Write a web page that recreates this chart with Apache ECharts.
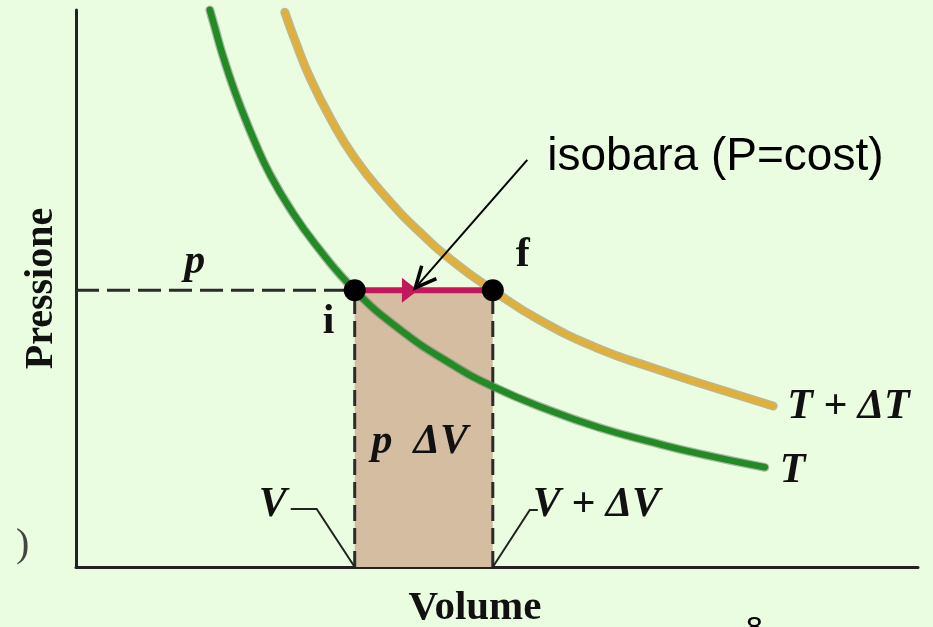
<!DOCTYPE html>
<html><head><meta charset="utf-8">
<script src="https://cdn.jsdelivr.net/npm/echarts/dist/echarts.min.js"></script>
<style>html,body{margin:0;padding:0;background:#ebfde1;}#c{width:933px;height:627px;}</style>
</head><body><div id="c"></div>
<script>
// ---- data (arbitrary units) ----
const volumeRange = [0, 10];
const pressureRange = [0, 10];
const isoV = [3.31, 4.95];          // V and V + ΔV
const isoP = 4.97;                  // p (constant pressure)
const greenV = [1.59, 1.65, 1.73, 1.83, 1.95, 2.13, 2.30, 2.54, 2.84, 3.31, 3.85, 4.44, 4.95, 5.63, 6.22, 6.82, 7.41, 8.18];
const greenP = [10.0, 9.68, 9.25, 8.78, 8.28, 7.61, 7.06, 6.44, 5.80, 4.97, 4.26, 3.66, 3.24, 2.81, 2.50, 2.25, 2.03, 1.79];
const orangeV = [2.48, 2.60, 2.78, 3.02, 3.31, 3.67, 4.09, 4.50, 4.95, 5.51, 6.22, 6.82, 7.41, 8.28];
const orangeP = [9.96, 9.46, 8.78, 8.06, 7.34, 6.66, 6.00, 5.46, 4.97, 4.43, 3.91, 3.59, 3.30, 2.89];
const isobaraStart = [5.36, 7.31];  // start of the annotation arrow
const isobaraTip = [4.03, 5.01];    // arrow tip on the isobar
const xName = 'Volume';
const yName = 'Pressione';
const curveLabels = ['T', 'T + ΔT'];
const pointLabels = ['i', 'f'];
const isobaraText = 'isobara (P=cost)';

// ---- chart ----
const chart = echarts.init(document.getElementById('c'), null, {renderer: 'canvas'});
const zip = (a, b) => a.map((v, k) => [v, b[k]]);
const BG = '#ebfde1';
const DARK = '#2b2b2b';
const serif = '"Liberation Serif", "DejaVu Serif", serif';
const arrowV = isoV[0] + 0.4 * (isoV[1] - isoV[0]);

function lineS(data, color, width, extra) {
  return Object.assign({
    type: 'line', data, symbol: 'none', showSymbol: false, silent: true, clip: false,
    lineStyle: {color, width, cap: 'round'}, animation: false
  }, extra || {});
}

const option = {
  backgroundColor: BG,
  animation: false,
  grid: {left: 76, right: 15, top: 10, bottom: 60, containLabel: false, outerBoundsMode: 'none'},
  xAxis: {
    type: 'value', min: volumeRange[0], max: volumeRange[1],
    name: xName, nameLocation: 'middle', nameGap: 21,
    nameTextStyle: {fontFamily: serif, fontSize: 41, fontWeight: 'bold', color: '#111',
      verticalAlign: 'top', padding: [0, 44, 0, 0]},
    axisLine: {show: true, lineStyle: {color: '#222', width: 3}},
    axisTick: {show: false}, axisLabel: {show: false}, splitLine: {show: false}
  },
  yAxis: {
    type: 'value', min: pressureRange[0], max: pressureRange[1],
    name: yName, nameLocation: 'middle', nameGap: 14,
    nameTextStyle: {fontFamily: serif, fontSize: 40, fontWeight: 'bold', color: '#111'},
    axisLine: {show: true, lineStyle: {color: '#222', width: 3}},
    axisTick: {show: false}, axisLabel: {show: false}, splitLine: {show: false}
  },
  series: [
    // work area p ΔV
    lineS([[isoV[0], isoP], [isoV[1], isoP]], '#d5bda2', 0,
      {areaStyle: {color: '#d5bda2', opacity: 1}, z: 1}),
    // dashed guides
    lineS([[0, isoP], [isoV[0], isoP]], DARK, 3, {lineStyle: {color: DARK, width: 3, type: [23, 8]}, z: 2}),
    lineS([[isoV[0], 0], [isoV[0], isoP]], DARK, 3, {lineStyle: {color: DARK, width: 3, type: [16, 7]}, z: 2}),
    lineS([[isoV[1], 0], [isoV[1], isoP]], DARK, 3, {lineStyle: {color: DARK, width: 3, type: [16, 7]}, z: 2}),
    // isotherm T
    lineS(zip(greenV, greenP), 'rgba(110,130,110,0.55)', 9, {smooth: 0.5, z: 3}),
    lineS(zip(greenV, greenP), '#238b25', 6.5, {smooth: 0.5, z: 4}),
    // isotherm T + ΔT
    lineS(zip(orangeV, orangeP), 'rgba(140,130,100,0.55)', 9, {smooth: 0.5, z: 3}),
    lineS(zip(orangeV, orangeP), '#dfb03c', 6.5, {smooth: 0.5, z: 4}),
    // isobar i -> f
    lineS([[isoV[0], isoP], [isoV[1], isoP]], '#c2185b', 6, {z: 5, lineStyle: {color: '#c2185b', width: 6, cap: 'butt'}}),
    {type: 'scatter', data: [[arrowV, isoP]], symbol: 'triangle', symbolRotate: -90, symbolSize: [25, 16],
      itemStyle: {color: '#c2185b', opacity: 1}, silent: true, z: 6, animation: false},
    {type: 'scatter', data: [[isoV[0], isoP], [isoV[1], isoP]], symbol: 'circle', symbolSize: 22,
      itemStyle: {color: '#000', opacity: 1}, silent: true, z: 7, animation: false}
  ]
};
chart.setOption(option);

const px = (p) => chart.convertToPixel({xAxisIndex: 0, yAxisIndex: 0}, p);
function txt(text, x, y, font, align, vAlign, fill) {
  return {type: 'text', x, y, z: 100, silent: true,
    style: {text, font, fill: fill || '#111', align, verticalAlign: vAlign,
      textAlign: align, textVerticalAlign: vAlign}};
}
function poly(points, width, color) {
  return {type: 'polyline', z: 90, silent: true, shape: {points},
    style: {stroke: color || '#222', lineWidth: width, fill: null, lineJoin: 'miter'}};
}

const I = px([isoV[0], isoP]), F = px([isoV[1], isoP]);
const Vb = px([isoV[0], 0]), VFb = px([isoV[1], 0]);
const gEnd = px([greenV[greenV.length - 1], greenP[greenP.length - 1]]);
const oEnd = px([orangeV[orangeV.length - 1], orangeP[orangeP.length - 1]]);
const pLab = px([1.41, isoP]);
const mid = px([(isoV[0] + isoV[1]) / 2, isoP]);
const aS = px(isobaraStart), aT = px(isobaraTip);
const ang = Math.atan2(aS[1] - aT[1], aS[0] - aT[0]);
const armL = 23, armA = 25 * Math.PI / 180;
const arm1 = [aT[0] + armL * Math.cos(ang + armA), aT[1] + armL * Math.sin(ang + armA)];
const arm2 = [aT[0] + armL * Math.cos(ang - armA), aT[1] + armL * Math.sin(ang - armA)];

const mathFont = 'italic bold 42px ' + serif;
const romanFont = 'bold 42px ' + serif;
chart.setOption({
  graphic: [
    poly([aS, aT], 2, '#000'),
    poly([arm1, aT, arm2], 3.5, '#000'),
    poly([Vb, [Vb[0] - 38, Vb[1] - 58], [Vb[0] - 64, Vb[1] - 58]], 2),
    poly([VFb, [VFb[0] + 37, VFb[1] - 57], [VFb[0] + 45, VFb[1] - 57]], 2),
    txt(isobaraText, aS[0] + 20, aS[1] - 3, '46px "Liberation Sans", Arial, sans-serif', 'left', 'middle', '#000'),
    txt('p', pLab[0], pLab[1] - 28, mathFont, 'center', 'middle'),
    txt(pointLabels[0], I[0] - 26, I[1] + 32, romanFont, 'center', 'middle'),
    txt(pointLabels[1], F[0] + 30, F[1] - 35, romanFont, 'center', 'middle'),
    txt('p  ΔV', mid[0] - 4, mid[1] + 152, mathFont, 'center', 'middle'),
    txt('V', Vb[0] - 68, Vb[1] - 62, mathFont, 'right', 'middle'),
    txt('V + ΔV', VFb[0] + 40, VFb[1] - 62, mathFont, 'left', 'middle'),
    txt(curveLabels[1], oEnd[0] + 14, oEnd[1] + 1, mathFont, 'left', 'middle'),
    txt(curveLabels[0], gEnd[0] + 15, gEnd[1] + 4, mathFont, 'left', 'middle'),
    txt(')', 16, 545, '40px ' + serif, 'left', 'middle', '#444'),
    txt('8', 746, 614, '30px "Liberation Sans", Arial, sans-serif', 'left', 'top', '#000')
  ]
});
</script>
</body></html>
